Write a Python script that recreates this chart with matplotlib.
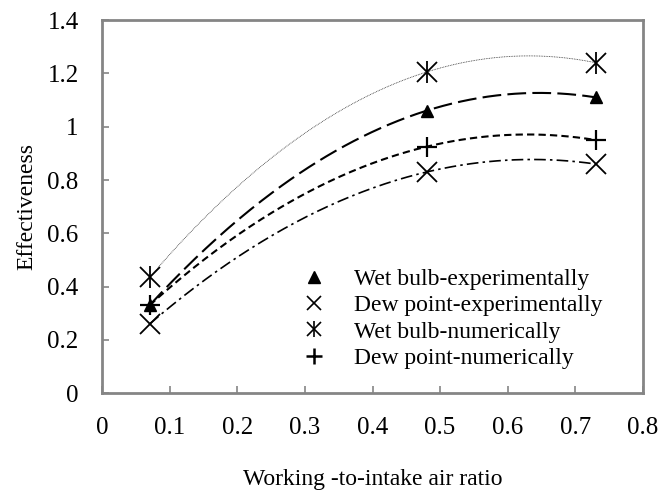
import numpy as np
import matplotlib.pyplot as plt
from matplotlib.lines import Line2D
from matplotlib.legend_handler import HandlerTuple

plt.rcParams["font.family"] = ["Liberation Serif", "DejaVu Serif"]

# data
ratio = [0.07, 0.48, 0.73]
wet_exp = [0.33, 1.06, 1.11]
dew_exp = [0.26, 0.83, 0.86]
wet_num = [0.435, 1.205, 1.24]
dew_num = [0.33, 0.925, 0.95]

GRAY = "#858585"

fig = plt.figure(figsize=(6.62, 4.93), dpi=100)
ax = fig.add_axes([0.1545, 0.2022, 0.8165, 0.7572])

# quadratic trendlines (like Excel poly order 2)
xs = np.linspace(min(ratio), max(ratio), 200)

def trend(y, **kw):
    c = np.polyfit(ratio, y, 2)
    ax.plot(xs, np.polyval(c, xs), color="k", zorder=2, **kw)

trend(wet_num, lw=0.6, ls=(0, (1, 1)), alpha=0.8)
trend(wet_exp, lw=1.5, ls=(0, (9, 3)))
trend(dew_num, lw=1.5, ls=(0, (3.5, 2)))
trend(dew_exp, lw=1.2, ls=(0, (7, 2.5, 1.5, 2.5)))

# markers
ax.plot(ratio, wet_exp, ls="none", marker="^", ms=9, color="k", zorder=3)
ax.plot(ratio, dew_exp, ls="none", marker="x", ms=14, mew=1.3, color="k", zorder=3)
ax.plot(ratio, wet_num, ls="none", marker="x", ms=15, mew=1.3, color="k", zorder=3)
ax.plot(ratio, wet_num, ls="none", marker="|", ms=16, mew=1.3, color="k", zorder=3)
ax.plot(ratio, dew_num, ls="none", marker="+", ms=15, mew=1.6, color="k", zorder=3)

ax.set_xlim(0, 0.8)
ax.set_ylim(0, 1.4)
ax.set_xticks(np.arange(0, 0.81, 0.1))
ax.set_yticks(np.arange(0, 1.41, 0.2))
ax.set_xticklabels(["0", "0.1", "0.2", "0.3", "0.4", "0.5", "0.6", "0.7", "0.8"])
ax.set_yticklabels(["0", "0.2", "0.4", "0.6", "0.8", "1", "1.2", "1.4"])
ax.tick_params(direction="in", length=5, width=1.2, color=GRAY, labelsize=18)
ax.tick_params(axis="x", pad=17)
ax.tick_params(axis="y", pad=17)
for s in ax.spines.values():
    s.set_color(GRAY)
    s.set_linewidth(2)

ax.set_xlabel("Working -to-intake air ratio", fontsize=17, labelpad=22)
ax.set_ylabel("Effectiveness", fontsize=17, labelpad=7)

h_tri = Line2D([], [], ls="none", marker="^", ms=9, color="k")
h_x = Line2D([], [], ls="none", marker="x", ms=10, mew=1.2, color="k")
h_star = (Line2D([], [], ls="none", marker="x", ms=10, mew=1.2, color="k"),
          Line2D([], [], ls="none", marker="|", ms=11, mew=1.2, color="k"))
h_plus = Line2D([], [], ls="none", marker="+", ms=11, mew=1.8, color="k")
ax.legend([h_tri, h_x, h_star, h_plus],
          ["Wet bulb-experimentally", "Dew point-experimentally",
           "Wet bulb-numerically", "Dew point-numerically"],
          handler_map={tuple: HandlerTuple(ndivide=1, pad=0)},
          loc="upper left", bbox_to_anchor=(0.365, 0.335), frameon=False,
          fontsize=17, handlelength=1.2, handletextpad=1.1, labelspacing=0.21,
          borderpad=0, borderaxespad=0)

fig.savefig("out.png", dpi=100)
